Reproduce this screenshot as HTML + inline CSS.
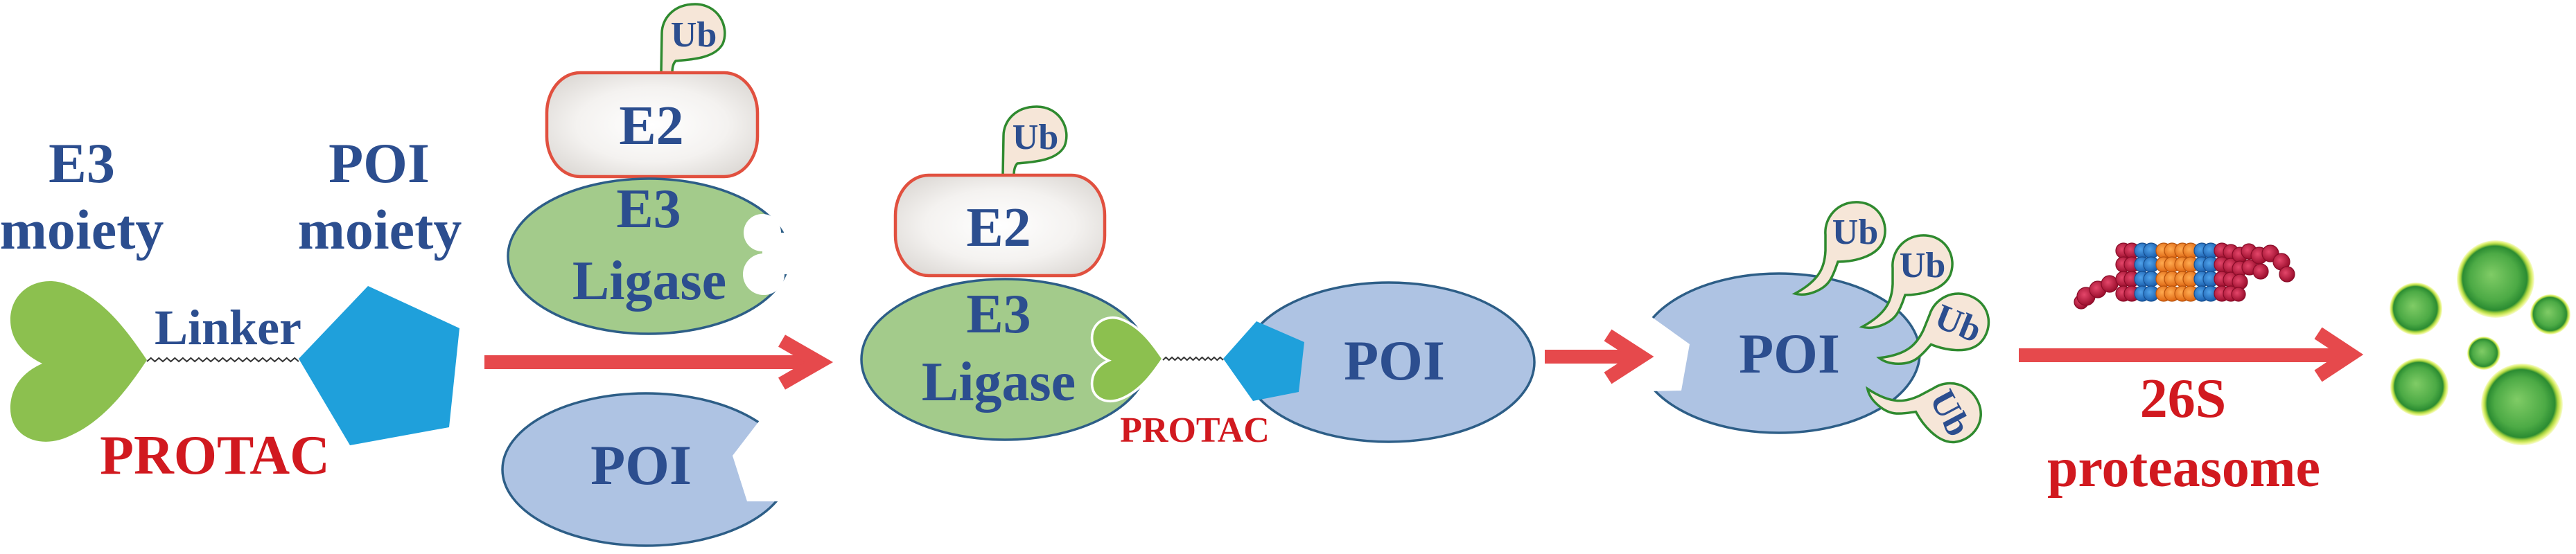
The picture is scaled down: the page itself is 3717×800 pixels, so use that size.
<!DOCTYPE html>
<html>
<head>
<meta charset="utf-8">
<style>
html,body{margin:0;padding:0;background:#fff;}
svg{display:block;}
svg text{font-family:"Liberation Serif","DejaVu Serif",serif !important;font-weight:bold;}
</style>
</head>
<body>
<svg width="3717" height="800" viewBox="0 0 3717 800" xmlns="http://www.w3.org/2000/svg" font-family="Liberation Serif, DejaVu Serif, serif" font-weight="bold" style="font-family:'Liberation Serif','DejaVu Serif',serif;font-weight:bold">
<defs>
  <radialGradient id="e2g" cx="50%" cy="50%" r="65%">
    <stop offset="0" stop-color="#ffffff"/>
    <stop offset="0.55" stop-color="#f4f2f0"/>
    <stop offset="1" stop-color="#d9d5d1"/>
  </radialGradient>
  <radialGradient id="gball" cx="50%" cy="50%" r="50%" fx="44%" fy="44%">
    <stop offset="0" stop-color="#80cc66"/>
    <stop offset="0.62" stop-color="#4caa45"/>
    <stop offset="0.83" stop-color="#2b8c32"/>
    <stop offset="0.89" stop-color="#a6d23e"/>
    <stop offset="0.95" stop-color="#e2f278"/>
    <stop offset="1" stop-color="#f8fcd8"/>
  </radialGradient>
  <radialGradient id="rb" cx="40%" cy="40%" r="60%">
    <stop offset="0" stop-color="#e4466a"/>
    <stop offset="1" stop-color="#9c0f2e"/>
  </radialGradient>
  <radialGradient id="bb" cx="40%" cy="40%" r="60%">
    <stop offset="0" stop-color="#4fa2ea"/>
    <stop offset="1" stop-color="#1b5fae"/>
  </radialGradient>
  <radialGradient id="ob" cx="40%" cy="40%" r="60%">
    <stop offset="0" stop-color="#ffab50"/>
    <stop offset="1" stop-color="#de6612"/>
  </radialGradient>
  <path id="heart" d="M 212,520 C 185,480 150,430 95,410 C 55,396 15,420 15,462 C 15,495 40,515 61,525 C 38,535 15,555 15,590 C 15,630 55,648 95,632 C 150,610 185,560 212,520 Z"/>
  <path id="ubP" d="M -25,44 C -5,44 30,38 40,15 C 50,-10 35,-40 5,-42 C -25,-44 -45,-20 -43,5 L -43,28 C -44,50 -50,70 -87,90 C -70,95 -45,85 -36,70 C -30,60 -28,52 -25,44 Z"/>
  <path id="ubE" d="M -26,40 C -10,38 30,38 42,15 C 52,-10 35,-42 2,-42 C -30,-42 -46,-20 -46,0 L -47,57 L -31,57 C -31,50 -30,44 -26,40 Z"/>
</defs>

<rect width="3717" height="800" fill="#ffffff"/>

<!-- ===== Panel 1: PROTAC ===== -->
<g fill="#2c4e8f" font-size="82" text-anchor="middle">
  <text x="118" y="263">E3</text>
  <text x="118" y="359">moiety</text>
  <text x="547" y="263">POI</text>
  <text x="548" y="359">moiety</text>
  <text x="329" y="497" font-size="72">Linker</text>
</g>
<use href="#heart" fill="#8cc04f"/>
<path d="M212,522 l5.76,-5 l5.76,5 l5.76,-5 l5.76,5 l5.76,-5 l5.76,5 l5.76,-5 l5.76,5 l5.76,-5 l5.76,5 l5.76,-5 l5.76,5 l5.76,-5 l5.76,5 l5.76,-5 l5.76,5 l5.76,-5 l5.76,5 l5.76,-5 l5.76,5 l5.76,-5 l5.76,5 l5.76,-5 l5.76,5 l5.76,-5 l5.76,5 l5.76,-5 l5.76,5 l5.76,-5 l5.76,5 l5.76,-5 l5.76,5 l5.76,-5 l5.76,5 l5.76,-5 l5.76,5 l5.76,-5 l5.76,5" fill="none" stroke="#333" stroke-width="2"/>
<polygon points="531,413 663,474 648,617 505,643 431,518" fill="#1fa0db"/>
<text x="310" y="684" font-size="80" fill="#d1191f" text-anchor="middle">PROTAC</text>

<!-- Arrow 1 -->
<line x1="699" y1="523" x2="1180" y2="523" stroke="#e6494c" stroke-width="20"/>
<polyline points="1128,492 1182,523 1128,554" fill="none" stroke="#e6494c" stroke-width="20" stroke-linejoin="miter"/>

<!-- ===== Panel 2: E2 / E3 / POI separate ===== -->
<g transform="translate(1001,48)">
  <use href="#ubE" fill="#f6e6d8" stroke="#2f8a2f" stroke-width="3.5"/>
  <text x="0" y="19" font-size="52" fill="#2c4e8f" text-anchor="middle">Ub</text>
</g>
<rect x="789" y="105" width="304" height="150" rx="48" ry="58" fill="url(#e2g)" stroke="#e1503f" stroke-width="4.5"/>
<text x="940" y="208" font-size="80" fill="#2c4e8f" text-anchor="middle">E2</text>

<ellipse cx="936" cy="370" rx="203" ry="112" fill="#a3cb8b" stroke="#2d5e87" stroke-width="3.5"/>
<circle cx="1100" cy="336" r="27" fill="#fff"/>
<circle cx="1102" cy="396" r="30" fill="#fff"/>
<rect x="1100" y="336" width="50" height="60" fill="#fff"/>
<text x="936" y="328" font-size="80" fill="#2c4e8f" text-anchor="middle">E3</text>
<text x="937" y="432" font-size="80" fill="#2c4e8f" text-anchor="middle">Ligase</text>

<ellipse cx="932" cy="678" rx="207" ry="110" fill="#aec3e3" stroke="#2d5e87" stroke-width="3.5"/>
<polygon points="1100,602 1057,658 1078,724 1160,724 1160,602" fill="#fff"/>
<text x="925" y="699" font-size="82" fill="#2c4e8f" text-anchor="middle">POI</text>

<!-- ===== Panel 3: ternary complex ===== -->
<g transform="translate(1494,196)">
  <use href="#ubE" fill="#f6e6d8" stroke="#2f8a2f" stroke-width="3.5"/>
  <text x="0" y="19" font-size="52" fill="#2c4e8f" text-anchor="middle">Ub</text>
</g>
<rect x="1292" y="253" width="302" height="145" rx="48" ry="58" fill="url(#e2g)" stroke="#e1503f" stroke-width="4.5"/>
<text x="1441" y="355" font-size="80" fill="#2c4e8f" text-anchor="middle">E2</text>

<ellipse cx="2004" cy="523" rx="210" ry="115" fill="#aec3e3" stroke="#2d5e87" stroke-width="3.5"/>
<text x="2012" y="548" font-size="82" fill="#2c4e8f" text-anchor="middle">POI</text>

<ellipse cx="1450" cy="519" rx="207" ry="116" fill="#a3cb8b" stroke="#2d5e87" stroke-width="3.5"/>
<text x="1441" y="480" font-size="80" fill="#2c4e8f" text-anchor="middle">E3</text>
<text x="1441" y="578" font-size="80" fill="#2c4e8f" text-anchor="middle">Ligase</text>

<g transform="translate(1567.8,247.6) scale(0.52)">
  <use href="#heart" fill="#8cc04f" stroke="#ffffff" stroke-width="7"/>
</g>
<path d="M1678,520 l4.35,-4 l4.35,4 l4.35,-4 l4.35,4 l4.35,-4 l4.35,4 l4.35,-4 l4.35,4 l4.35,-4 l4.35,4 l4.35,-4 l4.35,4 l4.35,-4 l4.35,4 l4.35,-4 l4.35,4 l4.35,-4 l4.35,4 l4.35,-4 l4.35,4" fill="none" stroke="#333" stroke-width="2"/>
<polygon points="1813,464 1882,494 1874,566 1808,579 1765,518" fill="#1fa0db"/>
<text x="1724" y="638" font-size="52" fill="#d1191f" text-anchor="middle">PROTAC</text>

<!-- ===== Panel 4: ubiquitinated POI ===== -->
<ellipse cx="2567" cy="510" rx="203" ry="115" fill="#aec3e3" stroke="#2d5e87" stroke-width="3.5"/>
<polygon points="2330,452 2378,454 2438,497 2426,564 2330,566" fill="#fff"/>
<text x="2582" y="538" font-size="82" fill="#2c4e8f" text-anchor="middle">POI</text>

<!-- Arrow 2 -->
<line x1="2229" y1="515" x2="2365" y2="515" stroke="#e6494c" stroke-width="20"/>
<polyline points="2320,484 2368,515 2320,546" fill="none" stroke="#e6494c" stroke-width="20" stroke-linejoin="miter"/>

<g transform="translate(2677,334)">
  <use href="#ubP" fill="#f6e6d8" stroke="#2f8a2f" stroke-width="3.5"/>
  <text x="0" y="18" font-size="52" fill="#2c4e8f" text-anchor="middle">Ub</text>
</g>
<g transform="translate(2774,382)">
  <use href="#ubP" fill="#f6e6d8" stroke="#2f8a2f" stroke-width="3.5"/>
  <text x="0" y="18" font-size="52" fill="#2c4e8f" text-anchor="middle">Ub</text>
</g>
<g transform="translate(2826,466) rotate(22)">
  <use href="#ubP" fill="#f6e6d8" stroke="#2f8a2f" stroke-width="3.5"/>
  <text x="0" y="18" font-size="52" fill="#2c4e8f" text-anchor="middle">Ub</text>
</g>
<g transform="translate(2815,596) rotate(62)">
  <use href="#ubP" fill="#f6e6d8" stroke="#2f8a2f" stroke-width="3.5"/>
  <text x="0" y="18" font-size="52" fill="#2c4e8f" text-anchor="middle">Ub</text>
</g>

<!-- Arrow 3 -->
<line x1="2913" y1="513" x2="3390" y2="513" stroke="#e6494c" stroke-width="20"/>
<polyline points="3345,481 3392,512 3345,543" fill="none" stroke="#e6494c" stroke-width="20" stroke-linejoin="miter"/>
<text x="3150" y="602" font-size="80" fill="#d1191f" text-anchor="middle">26S</text>
<text x="3151" y="702" font-size="80" fill="#d1191f" text-anchor="middle">proteasome</text>

<!-- Proteasome -->
<g stroke-width="1.2">
  <g fill="url(#rb)" stroke="#8a0c28">
    <circle cx="3003" cy="436" r="10"/>
    <circle cx="3010" cy="428" r="13"/>
    <circle cx="3027" cy="418" r="12"/>
    <circle cx="3044" cy="410" r="12"/>
    <circle cx="3064" cy="362" r="11"/><circle cx="3064" cy="382" r="11"/><circle cx="3064" cy="403" r="11"/><circle cx="3064" cy="424" r="11"/>
    <circle cx="3076" cy="362" r="11"/><circle cx="3076" cy="382" r="11"/><circle cx="3076" cy="403" r="11"/><circle cx="3076" cy="424" r="11"/>
  </g>
  <g fill="url(#bb)" stroke="#174f90">
    <circle cx="3091" cy="362" r="11"/><circle cx="3091" cy="382" r="11"/><circle cx="3091" cy="403" r="11"/><circle cx="3091" cy="424" r="11"/>
    <circle cx="3104" cy="362" r="11"/><circle cx="3104" cy="382" r="11"/><circle cx="3104" cy="403" r="11"/><circle cx="3104" cy="424" r="11"/>
  </g>
  <g fill="url(#ob)" stroke="#b8540e">
    <circle cx="3122" cy="362" r="11"/><circle cx="3122" cy="382" r="11"/><circle cx="3122" cy="403" r="11"/><circle cx="3122" cy="424" r="11"/>
    <circle cx="3134" cy="362" r="11"/><circle cx="3134" cy="382" r="11"/><circle cx="3134" cy="403" r="11"/><circle cx="3134" cy="424" r="11"/>
    <circle cx="3149" cy="362" r="11"/><circle cx="3149" cy="382" r="11"/><circle cx="3149" cy="403" r="11"/><circle cx="3149" cy="424" r="11"/>
    <circle cx="3161" cy="362" r="11"/><circle cx="3161" cy="382" r="11"/><circle cx="3161" cy="403" r="11"/><circle cx="3161" cy="424" r="11"/>
  </g>
  <g fill="url(#bb)" stroke="#174f90">
    <circle cx="3177" cy="362" r="11"/><circle cx="3177" cy="382" r="11"/><circle cx="3177" cy="403" r="11"/><circle cx="3177" cy="424" r="11"/>
    <circle cx="3190" cy="362" r="11"/><circle cx="3190" cy="382" r="11"/><circle cx="3190" cy="403" r="11"/><circle cx="3190" cy="424" r="11"/>
  </g>
  <g fill="url(#rb)" stroke="#8a0c28">
    <circle cx="3206" cy="362" r="11"/><circle cx="3206" cy="382" r="11"/><circle cx="3206" cy="403" r="11"/><circle cx="3206" cy="424" r="11"/>
    <circle cx="3219" cy="364" r="11"/><circle cx="3219" cy="384" r="11"/><circle cx="3219" cy="404" r="11"/><circle cx="3219" cy="424" r="11"/>
    <circle cx="3232" cy="368" r="11"/><circle cx="3232" cy="388" r="11"/><circle cx="3232" cy="407" r="11"/><circle cx="3230" cy="425" r="10"/>
    <circle cx="3245" cy="363" r="11"/><circle cx="3246" cy="386" r="11"/>
    <circle cx="3260" cy="369" r="12"/><circle cx="3262" cy="392" r="11"/>
    <circle cx="3276" cy="366" r="12"/>
    <circle cx="3292" cy="378" r="12"/>
    <circle cx="3300" cy="396" r="11"/>
  </g>
</g>

<!-- Degraded fragments -->
<circle cx="3486" cy="446" r="38" fill="url(#gball)"/>
<circle cx="3601" cy="403" r="56" fill="url(#gball)"/>
<circle cx="3680" cy="454" r="29" fill="url(#gball)"/>
<circle cx="3584" cy="510" r="24" fill="url(#gball)"/>
<circle cx="3491" cy="559" r="42" fill="url(#gball)"/>
<circle cx="3639" cy="584" r="59" fill="url(#gball)"/>
</svg>
</body>
</html>
